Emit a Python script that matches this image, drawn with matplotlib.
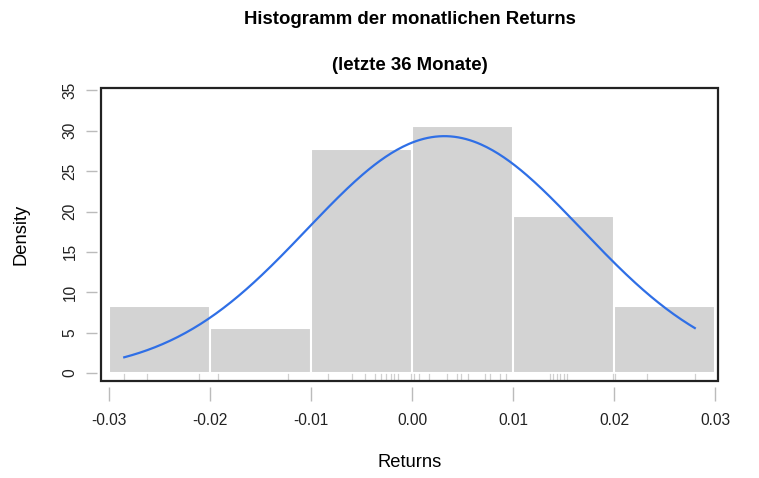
import numpy as np
import matplotlib
matplotlib.use("Agg")
import matplotlib.pyplot as plt
from matplotlib.patches import Rectangle
import matplotlib.transforms as mtransforms

plt.rcParams['font.family'] = ['Liberation Sans', 'DejaVu Sans']

# monthly returns, last 36 months
returns = [-0.0285, -0.0262, -0.0211,
           -0.0192, -0.0123,
           -0.0083, -0.0059, -0.0047, -0.0037, -0.0031, -0.0026, -0.0021, -0.0018, -0.0014, -0.0001,
           0.0002, 0.0007, 0.0017, 0.0035, 0.0045, 0.0048, 0.0055, 0.0072, 0.0077, 0.0087, 0.0093,
           0.0137, 0.0140, 0.0144, 0.0147, 0.0150, 0.0153, 0.0199,
           0.0201, 0.0233, 0.0280]
breaks = [-0.03, -0.02, -0.01, 0.00, 0.01, 0.02, 0.03]
norm_mean = 0.0032
norm_sd = 0.0136
xticks = [-0.03, -0.02, -0.01, 0.00, 0.01, 0.02, 0.03]
xticklabels = ['-0.03', '-0.02', '-0.01', '0.00', '0.01', '0.02', '0.03']
yticks = [0, 5, 10, 15, 20, 25, 30, 35]

r = np.array(returns)
dens, edges = np.histogram(r, bins=breaks, density=True)

fig = plt.figure(figsize=(7.59, 4.78), dpi=100)
ax = fig.add_axes([0.1331, 0.2029, 0.946 - 0.1331, 0.8159 - 0.2029])

ax.bar(edges[:-1], dens, width=np.diff(edges), align='edge',
       color='#d3d3d3', edgecolor='white', linewidth=1.5, zorder=1)

xs = np.linspace(r.min(), r.max(), 300)
ys = np.exp(-0.5 * ((xs - norm_mean) / norm_sd) ** 2) / (norm_sd * np.sqrt(2 * np.pi))
ax.plot(xs, ys, color='#2f6fe6', lw=1.6, zorder=3)

ax.set_xlim(-0.0308, 0.0303)
ax.set_ylim(-1.0, 35.3)

# rug marks at the bottom of the plot region
trans = mtransforms.blended_transform_factory(ax.transData, ax.transAxes)
for v in r:
    ax.plot([v, v], [0, 0.024], transform=trans, color='#d0d0d0', lw=0.9, zorder=2)

# R-like box and detached axes
for s in ax.spines.values():
    s.set_color('none')
ax.spines['bottom'].set_position(('outward', 4))
ax.spines['left'].set_position(('outward', 3))
ax.add_patch(Rectangle((0, 0), 1, 1, transform=ax.transAxes, fill=False,
                       edgecolor='#222222', lw=1.6, zorder=5, clip_on=False))

ax.set_xticks(xticks)
ax.set_xticklabels(xticklabels)
ax.set_yticks(yticks)
ax.set_yticklabels([str(t) for t in yticks], rotation=90, va='center')
ax.tick_params(axis='x', direction='out', length=10, color='#bbbbbb', width=1,
               labelsize=11.2, labelcolor='#222222', pad=9)
ax.tick_params(axis='y', direction='out', length=8, color='#bbbbbb', width=1,
               labelsize=11.2, labelcolor='#222222', pad=6)

ax.set_xlabel('Returns', fontsize=13.2, labelpad=19)
ax.set_ylabel('Density', fontsize=13.2, labelpad=24)

fig.text(0.5 * (0.1331 + 0.946), 1 - 19 / 478, 'Histogramm der monatlichen Returns',
         ha='center', va='center', fontsize=13.4, fontweight='bold')
fig.text(0.5 * (0.1331 + 0.946), 1 - 65 / 478, '(letzte 36 Monate)',
         ha='center', va='center', fontsize=13.4, fontweight='bold')

fig.savefig('out.png', dpi=100)
